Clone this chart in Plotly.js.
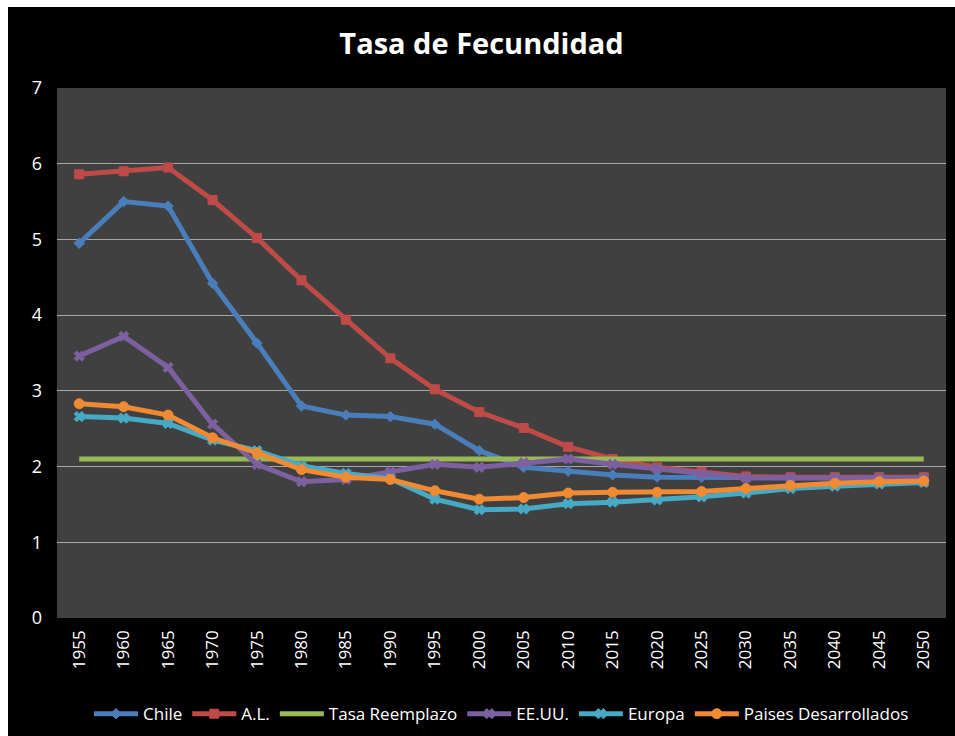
<!DOCTYPE html>
<html>
<head>
<meta charset="utf-8">
<script src="https://cdn.plot.ly/plotly-3.0.1.min.js"></script>
<style>
html,body{margin:0;padding:0;background:#ffffff;}
#chart{position:absolute;left:8px;top:7px;width:947px;height:729px;}
</style>
</head>
<body>
<div id="chart"></div>
<script>
const years = ["1955","1960","1965","1970","1975","1980","1985","1990","1995","2000","2005","2010","2015","2020","2025","2030","2035","2040","2045","2050"];
const chile = [4.95,5.50,5.44,4.42,3.63,2.80,2.68,2.66,2.56,2.21,1.99,1.94,1.89,1.86,1.86,1.85,1.85,1.85,1.85,1.85];
const al = [5.86,5.90,5.95,5.52,5.02,4.46,3.94,3.43,3.02,2.72,2.51,2.26,2.10,1.99,1.93,1.87,1.86,1.86,1.86,1.86];
const tasaReemplazo = [2.1,2.1,2.1,2.1,2.1,2.1,2.1,2.1,2.1,2.1,2.1,2.1,2.1,2.1,2.1,2.1,2.1,2.1,2.1,2.1];
const eeuu = [3.46,3.72,3.31,2.56,2.03,1.80,1.83,1.93,2.03,1.99,2.05,2.10,2.03,1.97,1.90,1.85,1.85,1.85,1.85,1.85];
const europa = [2.66,2.64,2.57,2.35,2.21,2.01,1.91,1.84,1.57,1.43,1.44,1.51,1.53,1.56,1.60,1.65,1.71,1.74,1.77,1.79];
const paises = [2.83,2.79,2.68,2.38,2.18,1.96,1.86,1.83,1.68,1.57,1.59,1.65,1.66,1.66,1.67,1.71,1.75,1.78,1.80,1.81];

const font = "Open Sans, Lato, sans-serif";
function tr(name, y, color, symbol, size, showMarker){
  return {
    type:"scatter", mode: showMarker ? "lines+markers" : "lines",
    name:name, x:years, y:y,
    line:{color:color, width:5},
    marker:{symbol:symbol, size:size, color:color, line:{color:color, width:1}}
  };
}
const data = [
  tr("Chile", chile, "#4a7ebb", "diamond", 8, true),
  tr("A.L.", al, "#be4b48", "square", 9, true),
  tr("Tasa Reemplazo", tasaReemplazo, "#98b954", "circle", 1, false),
  tr("EE.UU.", eeuu, "#7d60a0", "x", 9, true),
  tr("Europa", europa, "#46aac5", "x", 9, true),
  tr("Paises Desarrollados", paises, "#f08a33", "circle", 10, true)
];
const layout = {
  width:947, height:729,
  paper_bgcolor:"#000000", plot_bgcolor:"#404040",
  margin:{l:49, r:9, t:81, b:118},
  title:{text:"<b>Tasa de Fecundidad</b>", font:{family:font, size:29, color:"#ffffff"}, x:0.5, xanchor:"center", y:0.95, yanchor:"middle"},
  xaxis:{type:"category", range:[-0.5,19.5], tickangle:-90, showgrid:false, zeroline:false, showline:false, automargin:false,
         ticks:"", tickfont:{family:font, size:17, color:"#ffffff"}, ticklabelstandoff:8},
  yaxis:{range:[0,7], dtick:1, showgrid:true, gridcolor:"#a6a6a6", gridwidth:1, zeroline:false, showline:false, automargin:false,
         ticks:"", tickfont:{family:font, size:18, color:"#ffffff"}, ticklabelstandoff:14},
  showlegend:true,
  legend:{orientation:"h", x:0.5, xanchor:"center", yref:"container", y:0.03, yanchor:"middle", font:{family:font, size:17, color:"#ffffff"},
          bgcolor:"rgba(0,0,0,0)", itemwidth:44, tracegroupgap:0}
};
Plotly.newPlot("chart", data, layout, {displayModeBar:false, staticPlot:true});
</script>
</body>
</html>
